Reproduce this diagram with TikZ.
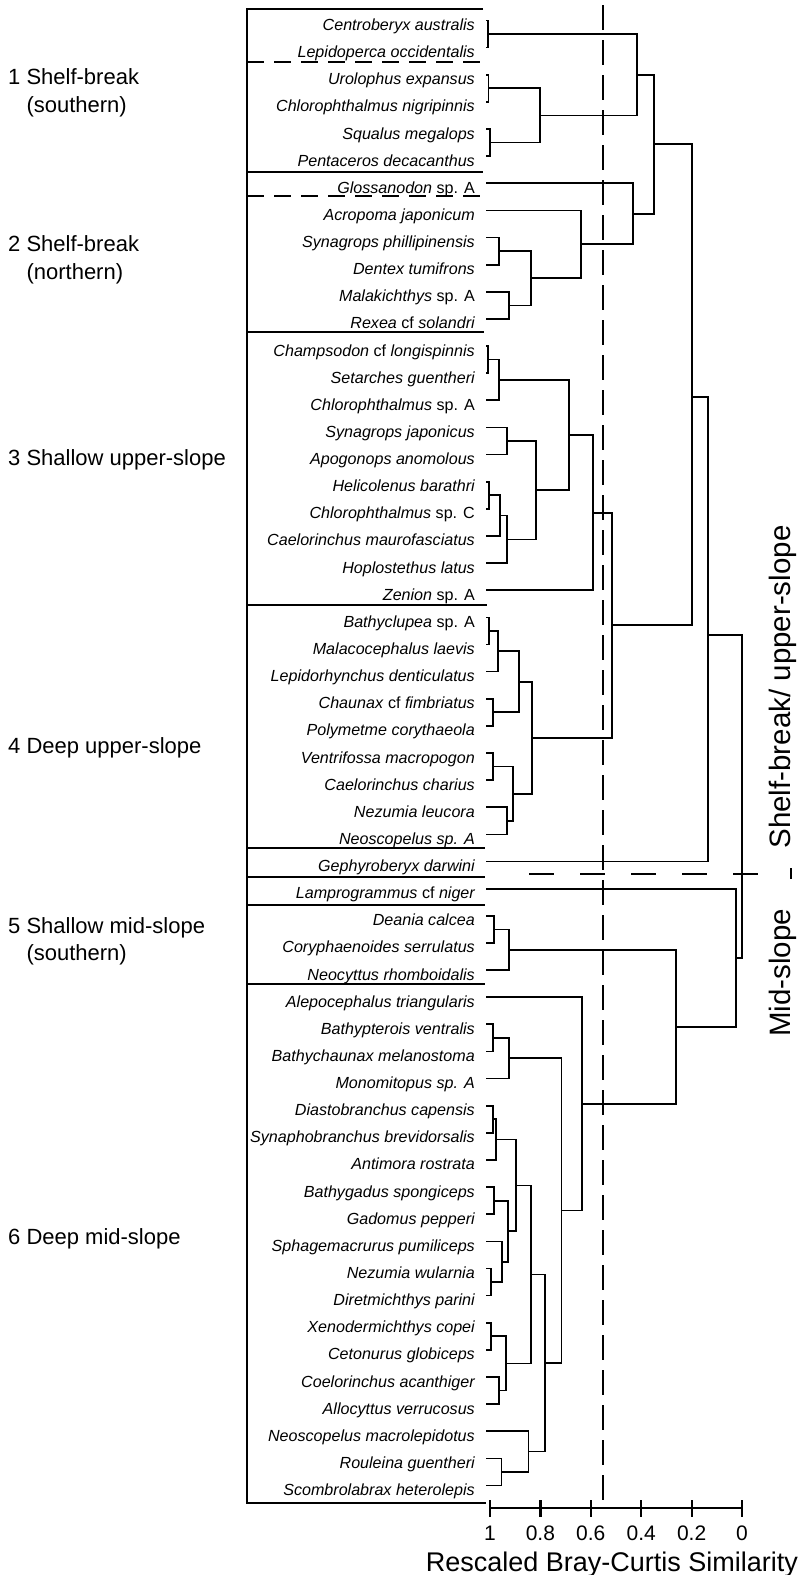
\documentclass[tikz,border=0pt]{standalone}
\usepackage{fontspec}
\setmainfont{Liberation Sans}
\usetikzlibrary{calc}
\newcommand\jn[4]{%
  \coordinate (#4x) at (#3,0);
  \draw[tree] (#1) -- (#1 -| #4x) -- (#2 -| #4x) -- (#2);
  \coordinate (#4) at ($(#1 -| #4x)!0.5!(#2 -| #4x)$);
}
\newcommand\jnY[5]{%
  \coordinate (#4x) at (#3,0);
  \draw[tree] (#1) -- (#1 -| #4x) -- (#2 -| #4x) -- (#2);
  \coordinate (#4) at (#3,#5);
}
\begin{document}
\begin{tikzpicture}[x=1pt,y=-1pt,
  tree/.style={line width=1.7pt},
  boxline/.style={line width=2.3pt},
  boxdash/.style={line width=2.3pt, dash pattern=on 17pt off 10pt},
  cutline/.style={line width=1.7pt, dash pattern=on 25pt off 10pt},
  groupcut/.style={line width=2pt, dash pattern=on 25pt off 26pt},
  sp/.style={font=\fontsize{16.1}{18}\selectfont\itshape, anchor=base east, inner sep=0pt},
  grp/.style={font=\fontsize{22}{27.7}\selectfont, anchor=base west, inner sep=0pt, align=left},
  side/.style={font=\fontsize{29.5}{32}\selectfont, rotate=90, anchor=base, inner sep=0pt},
  ticklab/.style={font=\fontsize{21}{24}\selectfont, anchor=base, inner sep=0pt},
  axtitle/.style={font=\fontsize{27}{30}\selectfont, anchor=base, inner sep=0pt}]
\useasboundingbox (0,0) rectangle (799,1575);

% leaves and labels
\foreach \i in {1,...,55}{\coordinate (L\i) at (486,{20.5+27.13*(\i-1)});}
\foreach \t [count=\i] in {
 Centroberyx australis, Lepidoperca occidentalis, Urolophus expansus,
 Chlorophthalmus nigripinnis, Squalus megalops, Pentaceros decacanthus,
 {Glossanodon \textup{sp. A}}, Acropoma japonicum, Synagrops phillipinensis,
 Dentex tumifrons, {Malakichthys \textup{sp. A}}, {Rexea \textup{cf} solandri},
 {Champsodon \textup{cf} longispinnis}, Setarches guentheri, {Chlorophthalmus \textup{sp. A}},
 Synagrops japonicus, Apogonops anomolous, Helicolenus barathri,
 {Chlorophthalmus \textup{sp. C}}, Caelorinchus maurofasciatus, Hoplostethus latus,
 {Zenion \textup{sp. A}}, {Bathyclupea \textup{sp. A}}, Malacocephalus laevis,
 Lepidorhynchus denticulatus, {Chaunax \textup{cf} fimbriatus}, Polymetme corythaeola,
 Ventrifossa macropogon, Caelorinchus charius, Nezumia leucora,
 Neoscopelus sp. A, Gephyroberyx darwini, {Lamprogrammus \textup{cf} niger},
 Deania calcea, Coryphaenoides serrulatus, Neocyttus rhomboidalis,
 Alepocephalus triangularis, Bathypterois ventralis, Bathychaunax melanostoma,
 Monomitopus sp. A, Diastobranchus capensis, Synaphobranchus brevidorsalis,
 Antimora rostrata, Bathygadus spongiceps, Gadomus pepperi,
 Sphagemacrurus pumiliceps, Nezumia wularnia, Diretmichthys parini,
 Xenodermichthys copei, Cetonurus globiceps, Coelorinchus acanthiger,
 Allocyttus verrucosus, Neoscopelus macrolepidotus, Rouleina guentheri,
 Scombrolabrax heterolepis}
 {\node[sp] (n\i) at ($(L\i)+(-11,10)$) {\t};}

% group frame
\draw[boxline] (483,9) -- (247,9) -- (247,1503) -- (486,1503);
\draw[boxdash] (247,62) -- (480,62);
\draw[boxline] (247,172) -- (483,172);
\draw[boxdash] (247,196) -- (480,196);
\draw[boxline] (247,332) -- (484,332);
\draw[boxline] (247,605) -- (487,605);
\draw[boxline] (247,848) -- (485,848);
\draw[boxline] (247,877) -- (485,877);
\draw[boxline] (247,905) -- (485,905);
\draw[boxline] (247,984) -- (485,984);

% group labels (anchor = baseline of last line)
\node[grp] (g1) at (8,112) {1 Shelf-break\\\phantom{1 }(southern)};
\node[grp] (g2) at (8,279.4) {2 Shelf-break\\\phantom{2 }(northern)};
\node[grp] (g3) at (8,465) {3 Shallow upper-slope};
\node[grp] (g4) at (8,753) {4 Deep upper-slope};
\node[grp] (g5) at (8,960.7) {5 Shallow mid-slope\\\phantom{5 }(southern)};
\node[grp] (g6) at (8,1244) {6 Deep mid-slope};

% cut lines
\draw[cutline] (603,5) -- (603,1503);
\draw[groupcut] (529,874) -- (758,874);
\draw[line width=1.6pt] (791,868) -- (791,879);

% cluster 1
\jn{L1}{L2}{487.7}{a1}
\jn{L3}{L4}{488.5}{a2}
\jn{L5}{L6}{490}{a3}
\jn{a2}{a3}{540}{a4}
\jn{a1}{a4}{637}{a5}
% cluster 2
\jn{L9}{L10}{499.3}{b1}
\jn{L11}{L12}{508.7}{b2}
\jn{b1}{b2}{530.7}{b3}
\jn{L8}{b3}{580.7}{b4}
\jn{L7}{b4}{632.7}{b5}
\jn{a5}{b5}{654.3}{c1}
% cluster 3
\jn{L13}{L14}{488.3}{d1}
\jn{d1}{L15}{499.3}{d2}
\jn{L16}{L17}{507.3}{d3}
\jn{L18}{L19}{489}{d4}
\jn{d4}{L20}{500}{d5}
\jn{d5}{L21}{506.7}{d6}
\jn{d3}{d6}{535.7}{d7}
\jn{d2}{d7}{569.3}{d8}
\jn{d8}{L22}{593.3}{d9}
% cluster 4
\jn{L23}{L24}{489.3}{e1}
\jn{e1}{L25}{497.7}{e2}
\jn{L26}{L27}{493.3}{e3}
\jn{e2}{e3}{519}{e4}
\jn{L28}{L29}{493.3}{e5}
\jn{L30}{L31}{506.7}{e6}
\jn{e5}{e6}{513.3}{e7}
\jn{e4}{e7}{532.3}{e8}
\jn{d9}{e8}{612}{f1}
\jnY{c1}{f1}{691.7}{f2}{397}
\jnY{f2}{L32}{708.3}{f3}{635}
% mid-slope
\jn{L34}{L35}{494.3}{g1}
\jn{g1}{L36}{508.7}{g2}
\jn{L38}{L39}{493.3}{h1}
\jn{h1}{L40}{509.3}{h2}
\jn{L41}{L42}{493.3}{h3}
\jn{h3}{L43}{496.3}{h4}
\jn{L44}{L45}{494.3}{h5}
\jn{L47}{L48}{490.7}{h6}
\jn{L46}{h6}{501.7}{h7}
\jn{h5}{h7}{508.3}{h8}
\jn{h4}{h8}{516}{h9}
\jn{L49}{L50}{490.7}{i1}
\jn{L51}{L52}{499}{i2}
\jn{i1}{i2}{506}{i3}
\jn{h9}{i3}{531}{i4}
\jn{L54}{L55}{501.4}{i5}
\jn{L53}{i5}{528.6}{i6}
\jn{i4}{i6}{545}{i7}
\jn{h2}{i7}{561.4}{i8}
\jn{L37}{i8}{581.7}{i9}
\jn{g2}{i9}{675.7}{j1}
\jn{L33}{j1}{735.7}{j2}
\jn{f3}{j2}{742.3}{j3}

% side labels
\node[side] (s1) at (790,687) {Shelf-break/ upper-slope};
\node[side] (s2) at (790,973) {Mid-slope};

% axis
\draw[line width=2.2pt] (490,1508) -- (742,1508);
\foreach \v/\lab [count=\k] in {1/1,0.8/0.8,0.6/0.6,0.4/0.4,0.2/0.2,0/0}{
  \draw[line width=2.2pt] ({742-252*\v},1500) -- ({742-252*\v},1517);
  \node[ticklab] (t\k) at ({742-252*\v},1540) {\lab};
}
\node[axtitle] (xt) at (612,1571) {Rescaled Bray-Curtis Similarity};
\end{tikzpicture}
\end{document}
